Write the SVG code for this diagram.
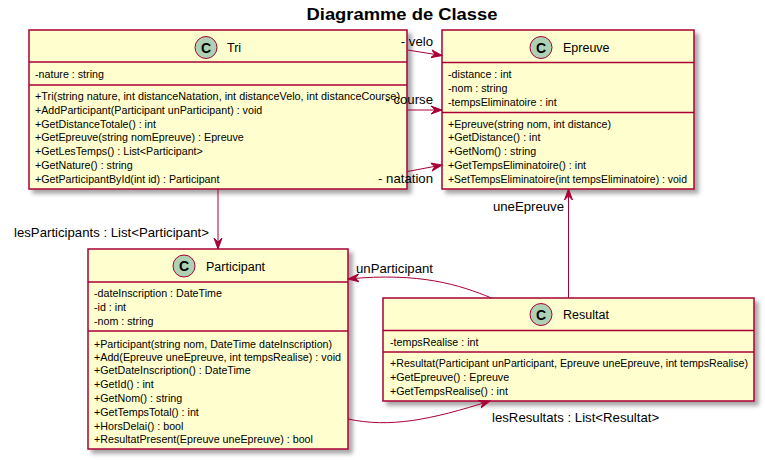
<svg xmlns="http://www.w3.org/2000/svg" width="765" height="460" viewBox="0 0 765 460">
<defs>
<filter id="sh" x="-10%" y="-10%" width="130%" height="130%">
<feGaussianBlur in="SourceAlpha" stdDeviation="2"/>
<feOffset dx="4" dy="4" result="o"/>
<feColorMatrix in="o" type="matrix" values="0 0 0 0 0  0 0 0 0 0  0 0 0 0 0  0 0 0 0.35 0"/>
<feMerge><feMergeNode/><feMergeNode in="SourceGraphic"/></feMerge>
</filter>
<marker id="arr" viewBox="0 0 12 10" refX="11" refY="5" markerWidth="12" markerHeight="10" markerUnits="userSpaceOnUse" orient="auto">
<path d="M0,1 L11,5 L0,9 L4,5 Z" fill="#A80036" stroke="#A80036" stroke-width="1"/>
</marker>
</defs>
<style>
.box{fill:#FEFECE;stroke:#A80036;stroke-width:1.5}
.sep{stroke:#A80036;stroke-width:1.5}
.circ{fill:#ADD1B2;stroke:#A80036;stroke-width:1}
.cl{font-family:"Liberation Sans",Arial,sans-serif;font-size:14px;font-weight:bold;fill:#000;text-anchor:middle}
.nm{font-family:"Liberation Sans",Arial,sans-serif;font-size:12.5px;fill:#000}
.m{font-family:"Liberation Sans",Arial,sans-serif;font-size:10.7px;fill:#000}
.lbl{font-family:"Liberation Sans",Arial,sans-serif;font-size:13.2px;fill:#000}
.end{text-anchor:end}
.edge{fill:none;stroke:#A80036;stroke-width:1;marker-end:url(#arr)}
</style>
<rect width="765" height="460" fill="#FFFFFF"/>
<text x="402" y="19.5" font-family="Liberation Sans,Arial,sans-serif" font-size="17" font-weight="bold" text-anchor="middle" textLength="191" lengthAdjust="spacingAndGlyphs">Diagramme de Classe</text>

<g id="Tri">
<rect class="box" x="29" y="30" width="378" height="159" filter="url(#sh)"/>
<line class="sep" x1="29" y1="62" x2="407" y2="62"/>
<line class="sep" x1="29" y1="85" x2="407" y2="85"/>
<circle class="circ" cx="206" cy="47.5" r="11"/>
<text class="cl" x="206" y="52.5">C</text>
<text class="nm" x="227" y="52">Tri</text>
<text class="m" x="35" y="78">-nature : string</text>
<text class="m" x="35" y="100" textLength="365" lengthAdjust="spacingAndGlyphs">+Tri(string nature, int distanceNatation, int distanceVelo, int distanceCourse)</text>
<text class="m" x="35" y="114">+AddParticipant(Participant unParticipant) : void</text>
<text class="m" x="35" y="128">+GetDistanceTotale() : int</text>
<text class="m" x="35" y="141">+GetEpreuve(string nomEpreuve) : Epreuve</text>
<text class="m" x="35" y="155">+GetLesTemps() : List&lt;Participant&gt;</text>
<text class="m" x="35" y="169">+GetNature() : string</text>
<text class="m" x="35" y="183">+GetParticipantById(int id) : Participant</text>
</g>

<g id="Epreuve">
<rect class="box" x="442" y="30" width="252" height="159" filter="url(#sh)"/>
<line class="sep" x1="442" y1="62.5" x2="694" y2="62.5"/>
<line class="sep" x1="442" y1="112.5" x2="694" y2="112.5"/>
<circle class="circ" cx="541" cy="47.5" r="11"/>
<text class="cl" x="541" y="52.5">C</text>
<text class="nm" x="563" y="52">Epreuve</text>
<text class="m" x="448" y="78">-distance : int</text>
<text class="m" x="448" y="92">-nom : string</text>
<text class="m" x="448" y="106">-tempsEliminatoire : int</text>
<text class="m" x="448" y="128">+Epreuve(string nom, int distance)</text>
<text class="m" x="448" y="141">+GetDistance() : int</text>
<text class="m" x="448" y="155">+GetNom() : string</text>
<text class="m" x="448" y="169">+GetTempsEliminatoire() : int</text>
<text class="m" x="448" y="183" textLength="239" lengthAdjust="spacingAndGlyphs">+SetTempsEliminatoire(int tempsEliminatoire) : void</text>
</g>

<g id="Participant">
<rect class="box" x="88" y="249" width="260" height="200" filter="url(#sh)"/>
<line class="sep" x1="88" y1="282" x2="348" y2="282"/>
<line class="sep" x1="88" y1="331" x2="348" y2="331"/>
<circle class="circ" cx="184" cy="266" r="11"/>
<text class="cl" x="184" y="271">C</text>
<text class="nm" x="206" y="270.5">Participant</text>
<text class="m" x="94" y="297">-dateInscription : DateTime</text>
<text class="m" x="94" y="311">-id : int</text>
<text class="m" x="94" y="325">-nom : string</text>
<text class="m" x="94" y="347.5">+Participant(string nom, DateTime dateInscription)</text>
<text class="m" x="94" y="361" textLength="247" lengthAdjust="spacingAndGlyphs">+Add(Epreuve uneEpreuve, int tempsRealise) : void</text>
<text class="m" x="94" y="374">+GetDateInscription() : DateTime</text>
<text class="m" x="94" y="388">+GetId() : int</text>
<text class="m" x="94" y="402">+GetNom() : string</text>
<text class="m" x="94" y="416">+GetTempsTotal() : int</text>
<text class="m" x="94" y="429.5">+HorsDelai() : bool</text>
<text class="m" x="94" y="443">+ResultatPresent(Epreuve uneEpreuve) : bool</text>
</g>

<g id="Resultat">
<rect class="box" x="383" y="298" width="371" height="103" filter="url(#sh)"/>
<line class="sep" x1="383" y1="330.5" x2="754" y2="330.5"/>
<line class="sep" x1="383" y1="352" x2="754" y2="352"/>
<circle class="circ" cx="541" cy="314.5" r="11"/>
<text class="cl" x="541" y="319.5">C</text>
<text class="nm" x="563" y="319">Resultat</text>
<text class="m" x="390" y="346">-tempsRealise : int</text>
<text class="m" x="390" y="367" textLength="358" lengthAdjust="spacingAndGlyphs">+Resultat(Participant unParticipant, Epreuve uneEpreuve, int tempsRealise)</text>
<text class="m" x="390" y="381">+GetEpreuve() : Epreuve</text>
<text class="m" x="390" y="395">+GetTempsRealise() : int</text>
</g>

<g id="connectors">
<path class="edge" d="M407.5,50 L442,55.5"/>
<text class="lbl end" x="433" y="46">- velo</text>
<path class="edge" d="M407.5,110 L442,110"/>
<text class="lbl end" x="433" y="104">- course</text>
<path class="edge" d="M407.5,171.5 L442,165"/>
<text class="lbl end" x="433" y="183">- natation</text>
<path class="edge" d="M218,189 L218,249"/>
<text class="lbl" x="14" y="237">lesParticipants : List&lt;Participant&gt;</text>
<path class="edge" d="M568.5,298 L568.5,189"/>
<text class="lbl end" x="564" y="211">uneEpreuve</text>
<path class="edge" d="M491.5,298 C460,285 420,272 348,279"/>
<text class="lbl" x="356" y="273">unParticipant</text>
<path class="edge" d="M348,419 C390,428 430,420 490,401"/>
<text class="lbl" x="492" y="422">lesResultats : List&lt;Resultat&gt;</text>
</g>
</svg>
